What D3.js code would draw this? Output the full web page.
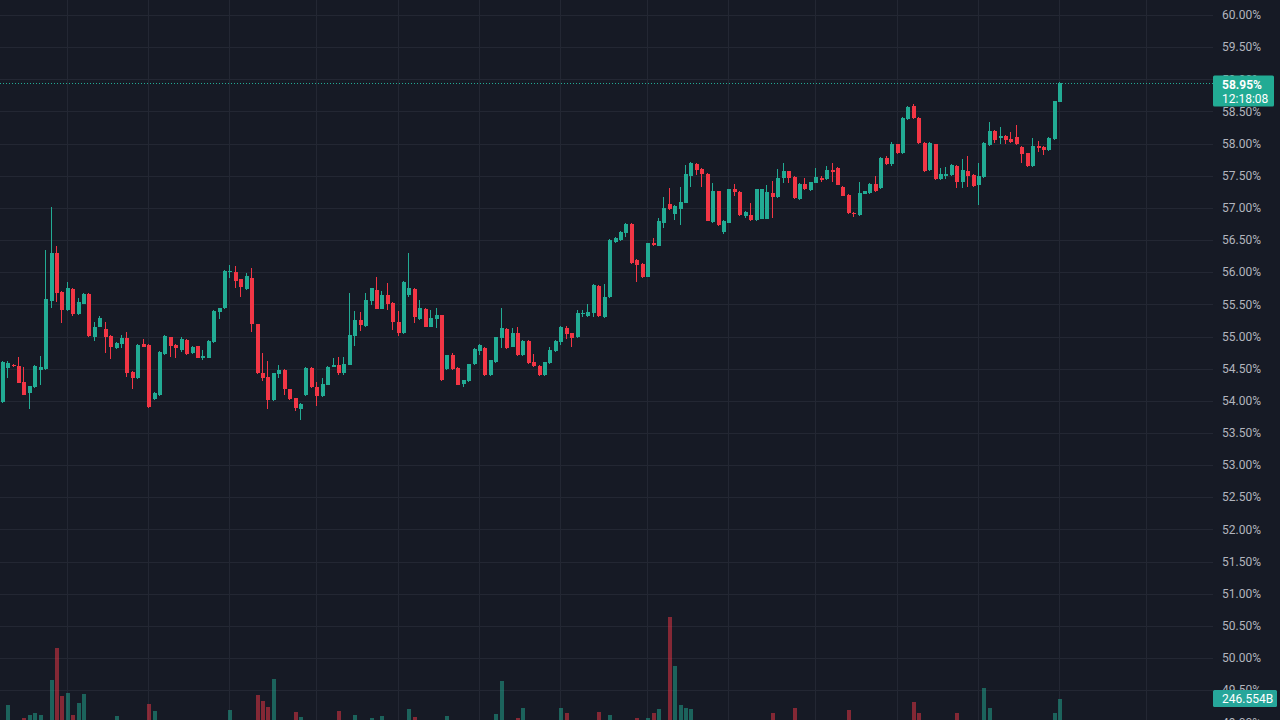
<!DOCTYPE html>
<html><head><meta charset="utf-8">
<script src="https://cdn.jsdelivr.net/npm/d3@7"></script>
<style>
html,body{margin:0;padding:0;background:#161a25;overflow:hidden;}
svg{display:block;}
text{font-family:Roboto,"Open Sans",sans-serif;}
</style></head>
<body>
<svg id="c" width="1280" height="720"></svg>
<script>
const opens = [53.98,54.51,54.56,54.54,54.29,54.12,54.21,54.48,54.49,55.55,
56.30,55.69,55.41,55.74,55.35,55.51,55.66,54.99,55.15,55.12,
55.01,54.82,54.88,54.98,54.45,54.35,54.88,54.87,54.03,54.09,
54.73,54.99,54.87,54.79,54.95,54.74,54.85,54.67,54.67,54.91,
55.38,55.44,56.00,56.00,55.89,55.74,55.91,55.19,54.43,54.37,
54.01,54.42,54.48,54.18,54.04,53.87,54.09,54.51,54.21,54.07,
54.25,54.53,54.56,54.43,54.56,55.01,55.26,55.16,55.55,55.72,
55.43,55.65,55.52,55.23,55.05,55.65,55.74,55.27,55.43,55.15,
55.27,55.33,54.49,54.71,54.51,54.26,54.31,54.57,54.77,54.82,
54.40,54.60,54.98,55.12,54.84,55.05,54.71,54.93,54.60,54.54,
54.40,54.59,54.77,54.91,55.13,55.05,54.99,55.35,55.32,55.37,
55.79,55.30,55.61,56.47,56.50,56.61,56.75,56.19,56.13,55.93,
56.45,56.41,56.77,57.06,56.91,56.98,57.08,57.50,57.68,57.61,
57.53,56.78,57.26,56.63,56.77,57.29,57.25,56.87,56.89,56.81,
56.83,56.83,57.23,57.17,57.47,57.57,57.48,57.14,57.37,57.28,
57.39,57.47,57.45,57.59,57.62,57.33,57.20,56.92,56.89,57.22,
57.23,57.37,57.31,57.78,57.68,57.99,57.85,58.38,58.58,58.40,
58.01,57.59,57.99,57.45,57.50,57.51,57.65,57.40,57.57,57.51,
57.36,57.48,57.98,58.20,58.09,58.12,58.07,58.10,57.95,57.85,
57.65,57.96,57.95,57.90,58.07,58.65];

const highs = [54.62,54.62,54.57,54.68,54.53,54.23,54.56,54.70,56.35,57.01,
56.41,55.70,55.85,55.76,55.60,55.68,55.68,55.23,55.32,55.23,
55.02,54.91,55.02,55.07,54.46,54.88,54.96,54.88,54.13,54.77,
55.02,55.00,54.88,54.99,54.96,54.85,54.86,54.79,54.94,55.41,
55.45,56.03,56.11,56.10,55.90,55.99,56.07,55.20,54.74,54.62,
54.44,54.56,54.49,54.19,54.05,53.96,54.52,54.52,54.29,54.35,
54.54,54.67,54.68,54.68,55.68,55.40,55.38,55.68,55.76,55.93,
55.71,55.83,55.53,55.40,55.86,56.30,55.75,55.57,55.44,55.41,
55.44,55.34,54.72,54.74,54.52,54.33,54.58,54.82,54.88,54.83,
54.64,55.00,55.44,55.13,55.13,55.15,54.94,54.94,54.73,54.55,
54.61,54.84,54.94,55.16,55.16,55.06,55.41,55.41,55.51,55.81,
55.80,55.82,56.51,56.54,56.64,56.76,56.76,56.20,56.14,56.46,
56.53,56.84,57.17,57.31,57.04,57.33,57.67,57.71,57.70,57.62,
57.54,57.39,57.27,56.81,57.30,57.37,57.26,56.95,57.08,57.30,
57.30,57.36,57.42,57.61,57.70,57.58,57.49,57.38,57.47,57.41,
57.62,57.50,57.65,57.70,57.64,57.34,57.21,56.93,57.40,57.27,
57.38,57.50,57.79,57.81,58.02,58.00,58.41,58.58,58.62,58.41,
58.02,58.02,58.00,57.62,57.64,57.68,57.66,57.76,57.81,57.52,
57.70,58.02,58.34,58.21,58.26,58.13,58.18,58.29,57.96,57.86,
58.09,58.04,57.96,58.10,58.67,58.96];

const lows = [53.97,54.35,54.53,54.28,54.09,53.87,54.20,54.25,54.48,55.44,
55.54,55.21,55.40,55.32,55.34,55.50,55.00,54.93,55.14,54.74,
54.65,54.81,54.82,54.37,54.18,54.34,54.83,53.89,54.01,54.08,
54.72,54.68,54.67,54.76,54.72,54.73,54.66,54.63,54.66,54.90,
55.27,55.43,55.91,55.75,55.61,55.73,55.07,54.42,54.31,53.87,
54.00,54.35,54.09,54.01,53.84,53.70,54.08,54.20,53.92,54.06,
54.24,54.52,54.40,54.40,54.55,54.85,55.09,55.15,55.49,55.42,
55.42,55.41,55.10,55.01,55.04,55.61,55.21,55.26,55.14,55.14,
55.13,54.31,54.48,54.48,54.24,54.21,54.30,54.56,54.71,54.39,
54.39,54.59,54.82,54.81,54.83,54.70,54.70,54.58,54.53,54.39,
54.39,54.58,54.76,54.87,54.96,54.84,54.98,55.30,55.31,55.30,
55.31,55.29,55.60,56.46,56.49,56.55,56.13,55.85,55.91,55.92,
56.41,56.40,56.69,56.97,56.81,56.73,57.07,57.33,57.51,57.33,
56.79,56.77,56.72,56.59,56.76,57.19,56.88,56.84,56.80,56.80,
56.82,56.82,56.84,57.16,57.39,57.39,57.14,57.13,57.28,57.27,
57.38,57.40,57.44,57.40,57.35,57.18,56.91,56.86,56.88,57.21,
57.22,57.25,57.30,57.67,57.65,57.84,57.84,58.37,58.39,58.00,
57.56,57.58,57.44,57.44,57.45,57.50,57.31,57.31,57.33,57.33,
57.05,57.47,57.97,58.01,57.99,57.99,58.01,57.98,57.70,57.64,
57.64,57.87,57.82,57.89,58.06,58.64];

const closes = [54.60,54.59,54.54,54.28,54.09,54.23,54.54,54.53,55.58,56.30,
55.68,55.41,55.75,55.35,55.54,55.66,55.01,55.15,55.29,54.99,
54.84,54.90,54.98,54.43,54.35,54.87,54.84,53.90,54.12,54.76,
55.01,54.85,54.82,54.96,54.73,54.84,54.67,54.70,54.93,55.40,
55.44,56.02,56.02,55.86,55.77,55.94,55.19,54.43,54.35,54.01,
54.43,54.48,54.18,54.03,53.89,53.95,54.51,54.21,54.07,54.26,
54.53,54.56,54.43,54.57,55.02,55.26,55.18,55.57,55.75,55.43,
55.65,55.51,55.23,55.05,55.85,55.75,55.30,55.44,55.15,55.29,
55.33,54.32,54.71,54.49,54.25,54.32,54.57,54.81,54.87,54.40,
54.63,54.99,55.13,54.82,55.05,54.71,54.93,54.59,54.54,54.40,
54.60,54.79,54.93,55.15,55.04,54.98,55.37,55.37,55.38,55.80,
55.32,55.61,56.50,56.53,56.63,56.75,56.14,56.11,55.93,56.45,
56.42,56.80,57.00,56.98,57.03,57.09,57.53,57.70,57.59,57.53,
56.80,57.26,56.73,56.80,57.29,57.25,56.89,56.94,56.81,57.29,
57.29,57.25,57.17,57.47,57.57,57.47,57.15,57.37,57.29,57.40,
57.48,57.43,57.59,57.56,57.36,57.19,56.92,56.91,57.23,57.26,
57.37,57.26,57.78,57.68,57.99,57.85,58.40,58.57,58.40,58.01,
57.57,58.01,57.45,57.53,57.53,57.67,57.40,57.59,57.50,57.34,
57.50,58.01,58.20,58.06,58.12,58.06,58.02,57.99,57.84,57.65,
57.96,57.93,57.90,58.09,58.66,58.95];

// volume in billions
const volumes = [40,188,30,45,72,99,117,99,45,412,
699,269,296,99,206,287,40,35,30,42,
38,90,28,45,36,40,25,197,134,48,
35,30,28,32,38,26,30,22,34,45,
30,50,143,40,35,38,52,278,224,170,
421,36,44,40,126,81,48,42,35,30,
38,25,134,30,50,99,30,45,72,40,
90,35,38,32,50,152,81,30,36,28,
25,50,90,32,38,28,35,40,30,45,
36,108,403,42,35,72,161,40,30,36,
38,32,35,161,117,40,48,28,30,45,
126,40,99,36,32,38,50,72,40,72,
117,152,50,977,538,188,161,152,45,40,
52,44,48,36,45,30,42,28,32,40,
38,35,117,36,30,28,161,35,30,26,
32,24,30,28,40,38,143,30,45,28,
32,30,42,30,38,32,48,40,215,117,
50,42,48,30,26,32,117,35,38,36,
45,341,161,40,30,28,25,36,40,44,
42,26,30,38,117,246.554];

const priceTicks = [60.0,59.5,59.0,58.5,58.0,57.5,57.0,56.5,56.0,55.5,55.0,54.5,54.0,53.5,53.0,52.5,52.0,51.5,51.0,50.5,50.0,49.5,49.0];
const timeGridIdx = [12,27,42,58,73,88,103,119,134,150,165,180,195,211];
const lastPriceLabel = "58.95%";
const countdownLabel = "12:18:08";
const volumeLabel = "246.554B";

const UP = "#22ab94", DOWN = "#f23645";
const W = 1280, H = 720, plotRight = 1213;

const svg = d3.select("#c");
svg.append("rect").attr("width",W).attr("height",H).attr("fill","#161a25");

const y = d3.scaleLinear().domain([60, 49]).range([15, 15 + 11*64.3]);
const x = d3.scaleLinear().domain([0, 195]).range([1.7, 1059.3]);
const yv = d3.scaleLinear().domain([0, 1000]).range([726, 726 - 111.53]);

// grid
const grid = svg.append("g").attr("shape-rendering","crispEdges");
grid.selectAll("line.h").data(priceTicks).join("line")
  .attr("x1",0).attr("x2",plotRight)
  .attr("y1",d=>Math.round(y(d))+0.5).attr("y2",d=>Math.round(y(d))+0.5)
  .attr("stroke","#232733").attr("stroke-width",1);
grid.selectAll("line.v").data(timeGridIdx).join("line")
  .attr("y1",0).attr("y2",H)
  .attr("x1",d=>Math.round(x(d))+0.5).attr("x2",d=>Math.round(x(d))+0.5)
  .attr("stroke","#232733").attr("stroke-width",1);

const data = opens.map((o,i)=>({i,o,h:highs[i],l:lows[i],c:closes[i],v:volumes[i]}));

// volume
svg.append("g").attr("shape-rendering","crispEdges")
  .selectAll("rect").data(data).join("rect")
  .attr("x",d=>Math.round(x(d.i))-1.5)
  .attr("width",4)
  .attr("y",d=>yv(d.v))
  .attr("height",d=>yv(0)-yv(d.v))
  .attr("fill",d=>d.c>=d.o ? "rgba(34,171,148,0.5)" : "rgba(242,54,69,0.5)");

// candles
const cg = svg.append("g").attr("shape-rendering","crispEdges");
cg.selectAll("line").data(data).join("line")
  .attr("x1",d=>Math.round(x(d.i))+0.5).attr("x2",d=>Math.round(x(d.i))+0.5)
  .attr("y1",d=>y(d.h)).attr("y2",d=>y(d.l))
  .attr("stroke",d=>d.c>=d.o?UP:DOWN).attr("stroke-width",1);
cg.selectAll("rect").data(data).join("rect")
  .attr("x",d=>Math.round(x(d.i))-1.5)
  .attr("width",4)
  .attr("y",d=>y(Math.max(d.o,d.c)))
  .attr("height",d=>Math.max(1, y(Math.min(d.o,d.c))-y(Math.max(d.o,d.c))))
  .attr("fill",d=>d.c>=d.o?UP:DOWN);

// last price line
const lastC = closes[closes.length-1];
svg.append("line").attr("x1",0).attr("x2",plotRight)
  .attr("y1",Math.round(y(lastC))+0.5).attr("y2",Math.round(y(lastC))+0.5)
  .attr("stroke",UP).attr("stroke-width",1).attr("stroke-dasharray","1,2");

// axis labels
const ax = svg.append("g");
ax.selectAll("text").data(priceTicks).join("text")
  .attr("x",1222).attr("y",d=>y(d)).attr("dy","0.35em")
  .attr("fill","#b2b5be").attr("font-size",12)
  .text(d=>d3.format(".2f")(d)+"%");

// last price label
const ly = y(lastC);
svg.append("rect").attr("x",1213).attr("y",ly-7).attr("width",61).attr("height",31).attr("rx",1.5).attr("fill",UP);
svg.append("text").attr("x",1222).attr("y",ly+2).attr("dy","0.35em").attr("fill","#ffffff")
  .attr("font-size",12).attr("font-weight","bold").text(lastPriceLabel);
svg.append("text").attr("x",1222).attr("y",ly+16).attr("dy","0.35em").attr("fill","#ffffff")
  .attr("font-size",12).text(countdownLabel);

// volume label
const vy = yv(volumes[volumes.length-1]);
svg.append("rect").attr("x",1213).attr("y",vy-8.5).attr("width",64).attr("height",17).attr("rx",1.5).attr("fill","#26a69a");
svg.append("text").attr("x",1222).attr("y",vy).attr("dy","0.35em").attr("fill","#ffffff")
  .attr("font-size",12).text(volumeLabel);
</script>
</body></html>
